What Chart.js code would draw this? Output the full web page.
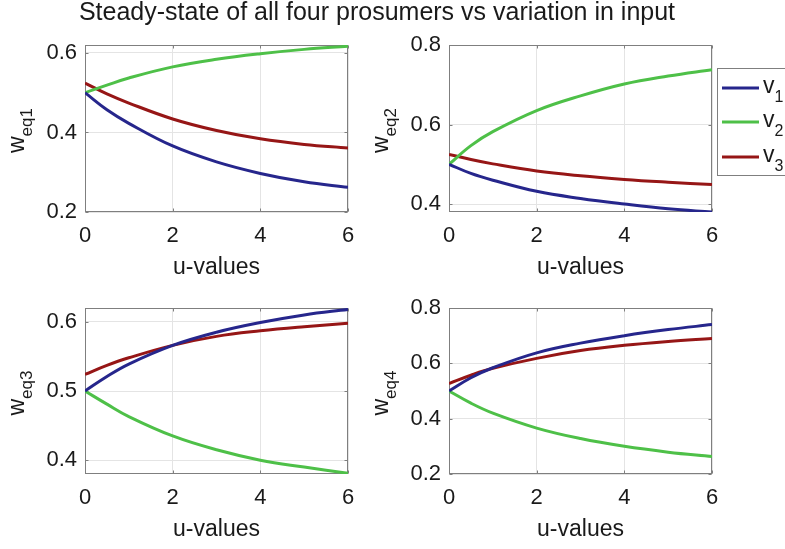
<!DOCTYPE html>
<html>
<head>
<meta charset="utf-8">
<script src="https://cdn.jsdelivr.net/npm/chart.js@4.4.1/dist/chart.umd.min.js"></script>
<style>
html, body { margin: 0; padding: 0; background: #fff; }
#wrap { position: relative; width: 785px; height: 549px; overflow: hidden; }
#wrap canvas { position: absolute; left: 0; top: 0; }
</style>
</head>
<body>
<div id="wrap">
  <canvas id="c1" width="785" height="549"></canvas>
  <canvas id="c2" width="785" height="549"></canvas>
  <canvas id="c3" width="785" height="549"></canvas>
  <canvas id="c4" width="785" height="549"></canvas>
</div>
<script>
// u values sampled along the x axis
const uValues = [0, 0.5, 1, 2, 3, 4, 5, 6];
const xTicks = [0, 2, 4, 6];
const seriesLabels = ['v', 'v', 'v'];
const seriesSubs = ['1', '2', '3'];

// w_eq1
const weq1V1 = [0.500, 0.457, 0.423, 0.366, 0.326, 0.297, 0.276, 0.262];
const weq1V2 = [0.500, 0.519, 0.537, 0.565, 0.584, 0.598, 0.609, 0.617];
const weq1V3 = [0.524, 0.497, 0.474, 0.434, 0.405, 0.384, 0.370, 0.361];
const yTicks1 = [0.2, 0.4, 0.6];
const yRange1 = [0.2, 0.62];

// w_eq2
const weq2V1 = [0.500, 0.477, 0.460, 0.432, 0.414, 0.400, 0.388, 0.380];
const weq2V2 = [0.500, 0.547, 0.582, 0.635, 0.672, 0.702, 0.722, 0.738];
const weq2V3 = [0.525, 0.512, 0.501, 0.483, 0.471, 0.462, 0.455, 0.449];
const yTicks2 = [0.4, 0.6, 0.8];
const yRange2 = [0.38, 0.8];

// w_eq3
const weq3V1 = [0.500, 0.521, 0.539, 0.566, 0.585, 0.599, 0.610, 0.618];
const weq3V2 = [0.500, 0.481, 0.463, 0.435, 0.415, 0.400, 0.390, 0.381];
const weq3V3 = [0.524, 0.537, 0.548, 0.566, 0.579, 0.587, 0.593, 0.598];
const yTicks3 = [0.4, 0.5, 0.6];
const yRange3 = [0.38, 0.62];

// w_eq4
const weq4V1 = [0.500, 0.548, 0.584, 0.638, 0.673, 0.700, 0.722, 0.740];
const weq4V2 = [0.500, 0.456, 0.420, 0.366, 0.328, 0.300, 0.279, 0.263];
const weq4V3 = [0.527, 0.557, 0.582, 0.618, 0.646, 0.665, 0.679, 0.690];
const yTicks4 = [0.2, 0.4, 0.6, 0.8];
const yRange4 = [0.2, 0.8];

const FONT = "'Liberation Sans', Arial, Helvetica, sans-serif";
const TEXT = '#1a1a1a';
const BOX = '#7f7f7f';
const GRID = '#e4e4e4';
const COLORS = ['rgb(38,38,140)', 'rgb(78,192,72)', 'rgb(150,22,22)'];
const W = 785, H = 549, AXW = 60, AXH = 60;

function drawSub(ctx, x, y, main, sub, mainSize, subSize, drop) {
    ctx.font = mainSize + 'px ' + FONT;
    ctx.fillText(main, x, y);
    const w = ctx.measureText(main).width;
    ctx.font = subSize + 'px ' + FONT;
    ctx.fillText(sub, x + w, y + drop);
}

const matlabAxes = {
    id: 'matlabAxes',
    beforeDatasetsDraw(chart) {
        const {ctx, chartArea: a, scales} = chart;
        const l = Math.round(a.left) + 0.5, t = Math.round(a.top) + 0.5;
        const r = Math.round(a.right) - 0.5, b = Math.round(a.bottom) - 0.5;
        ctx.save();
        ctx.strokeStyle = BOX;
        ctx.lineWidth = 1;
        ctx.beginPath();
        scales.x.ticks.forEach(tk => {
            const px = Math.round(scales.x.getPixelForValue(tk.value)) + 0.5;
            ctx.moveTo(px, b); ctx.lineTo(px, b - 3);
            ctx.moveTo(px, t); ctx.lineTo(px, t + 3);
        });
        scales.y.ticks.forEach(tk => {
            const py = Math.round(scales.y.getPixelForValue(tk.value)) + 0.5;
            ctx.moveTo(l, py); ctx.lineTo(l + 3, py);
            ctx.moveTo(r, py); ctx.lineTo(r - 3, py);
        });
        ctx.stroke();
        ctx.strokeRect(l, t, r - l, b - t);
        ctx.restore();
    },
    afterDraw(chart, args, opts) {
        const {ctx, chartArea: a} = chart;
        ctx.save();
        ctx.fillStyle = TEXT;
        ctx.textBaseline = 'alphabetic';

        // x axis title
        ctx.font = '23px ' + FONT;
        ctx.textAlign = 'center';
        ctx.fillText('u-values', (a.left + a.right) / 2, a.bottom + 62);

        // y axis title with subscript
        ctx.textAlign = 'left';
        ctx.font = '23px ' + FONT;
        const mw = ctx.measureText('w').width;
        ctx.font = '17px ' + FONT;
        const sw = ctx.measureText(opts.ySub).width;
        ctx.translate(a.left - 61, (a.top + a.bottom) / 2 + 2);
        ctx.rotate(-Math.PI / 2);
        drawSub(ctx, -(mw + sw) / 2, 0, 'w', opts.ySub, 23, 17, 8);
        ctx.setTransform(1, 0, 0, 1, 0, 0);

        if (opts.title) {
            ctx.font = '25px ' + FONT;
            ctx.textAlign = 'center';
            ctx.fillText(opts.title, 377, 19.5);
            ctx.textAlign = 'left';
        }

        if (opts.legend) {
            ctx.fillStyle = '#fff';
            ctx.fillRect(717.5, 68.5, 80, 107);
            ctx.strokeStyle = BOX;
            ctx.lineWidth = 1;
            ctx.strokeRect(717.5, 68.5, 80, 107);
            const rows = [88, 122, 157];
            chart.data.datasets.forEach((ds, i) => {
                ctx.strokeStyle = ds.borderColor;
                ctx.lineWidth = 3;
                ctx.beginPath();
                ctx.moveTo(722, rows[i]);
                ctx.lineTo(759, rows[i]);
                ctx.stroke();
                ctx.fillStyle = TEXT;
                drawSub(ctx, 763, rows[i] + 5, seriesLabels[i], seriesSubs[i], 23, 16, 8.5);
            });
        }
        ctx.restore();
    }
};

function makeChart(id, box, ySub, series, yTicks, yRange, extra) {
    const datasets = series.map((vals, i) => ({
        label: seriesLabels[i] + seriesSubs[i],
        data: uValues.map((u, j) => ({x: u, y: vals[j]})),
        borderColor: COLORS[i],
        borderWidth: 3,
        pointRadius: 0,
        fill: false,
        tension: 0.4
    }));
    return new Chart(document.getElementById(id), {
        type: 'line',
        data: {datasets: datasets},
        options: {
            responsive: false,
            animation: false,
            devicePixelRatio: 1,
            layout: {
                padding: {
                    left: box.left - AXW,
                    top: box.top,
                    right: W - box.right,
                    bottom: H - box.bottom - AXH
                }
            },
            plugins: {
                legend: {display: false},
                tooltip: {enabled: false},
                matlabAxes: Object.assign({ySub: ySub}, extra || {})
            },
            scales: {
                x: {
                    type: 'linear',
                    min: 0,
                    max: 6,
                    afterBuildTicks: s => { s.ticks = xTicks.map(v => ({value: v})); },
                    afterFit: s => { s.height = AXH; },
                    grid: {color: GRID, drawTicks: false},
                    border: {display: false},
                    ticks: {padding: 11, color: TEXT, font: {family: FONT, size: 22}, maxRotation: 0, autoSkip: false}
                },
                y: {
                    type: 'linear',
                    min: yRange[0],
                    max: yRange[1],
                    afterBuildTicks: s => { s.ticks = yTicks.map(v => ({value: v})); },
                    afterFit: s => { s.width = AXW; },
                    grid: {color: GRID, drawTicks: false},
                    border: {display: false},
                    ticks: {padding: 8, color: TEXT, font: {family: FONT, size: 22}}
                }
            }
        },
        plugins: [matlabAxes]
    });
}

makeChart('c1', {left: 85, top: 45, right: 348, bottom: 212}, 'eq1',
    [weq1V1, weq1V2, weq1V3], yTicks1, yRange1,
    {title: 'Steady-state of all four prosumers vs variation in input'});
makeChart('c2', {left: 449, top: 45, right: 712, bottom: 212}, 'eq2',
    [weq2V1, weq2V2, weq2V3], yTicks2, yRange2, {legend: true});
makeChart('c3', {left: 85, top: 308, right: 348, bottom: 474}, 'eq3',
    [weq3V1, weq3V2, weq3V3], yTicks3, yRange3);
makeChart('c4', {left: 449, top: 308, right: 712, bottom: 474}, 'eq4',
    [weq4V1, weq4V2, weq4V3], yTicks4, yRange4);
</script>
</body>
</html>
